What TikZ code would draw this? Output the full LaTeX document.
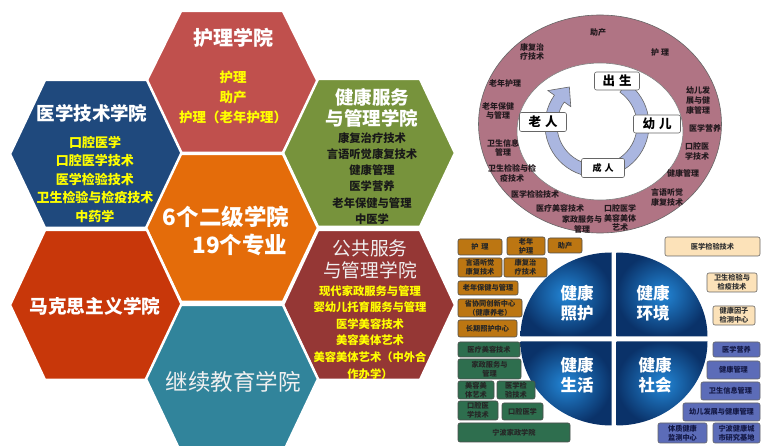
\documentclass[tikz,border=0pt]{standalone}
\usepackage{fontspec}
\setmainfont{Noto Sans CJK SC}
\usetikzlibrary{calc}
\definecolor{cRed}{HTML}{C0504D}
\definecolor{cBlue}{HTML}{1F497D}
\definecolor{cGreen}{HTML}{77933C}
\definecolor{cOrange}{HTML}{E46C0A}
\definecolor{cMarx}{RGB}{200,55,10}
\definecolor{cTeal}{HTML}{31849B}
\definecolor{cDRed}{HTML}{953735}
\definecolor{cYel}{RGB}{255,255,0}
\definecolor{cRing}{RGB}{176,116,132}
\definecolor{cLav}{RGB}{170,182,224}
\definecolor{cOBox}{RGB}{188,118,18}
\definecolor{cGBox}{RGB}{46,110,78}
\definecolor{cBeige}{RGB}{252,226,185}
\definecolor{cPBox}{RGB}{92,108,184}
\definecolor{qL}{RGB}{35,135,215}
\definecolor{qD}{RGB}{10,50,105}
\newcommand\myhex[4]{\filldraw[fill=#4,draw=white,line width=2.5pt]
  ({#1-86},{-(#2)}) -- ({#1-51},{-(#2)+#3}) -- ({#1+51},{-(#2)+#3}) --
  ({#1+86},{-(#2)}) -- ({#1+51},{-(#2)-#3}) -- ({#1-51},{-(#2)-#3}) -- cycle;}
\begin{document}
\begin{tikzpicture}[x=1pt,y=1pt,
  ttl/.style={text=white,inner sep=0,align=center},
  itm/.style={inner sep=0,align=center},
  rl/.style={inner sep=0,align=center,text={rgb,255:red,35;green,25;blue,30},font=\bfseries\fontsize{8}{9.8}\selectfont},
  cyc/.style={draw=gray!80!black,fill=white,rounded corners=2pt,line width=0.6pt,inner sep=0,font=\bfseries},
  bx/.style={rounded corners=2pt,line width=0.6pt,inner sep=0,align=center,font=\bfseries\fontsize{7.2}{8.6}\selectfont},
  obox/.style={bx,fill=cOBox,draw=black!70,text=black!85},
  gbox/.style={bx,fill=cGBox,draw=black!70,text=black!85},
  ebox/.style={bx,fill=cBeige,draw=black!60,text=black!80},
  pbox/.style={bx,fill=cPBox,draw=black!60,text={rgb,255:red,20;green,25;blue,70}},
  qt/.style={text=white,inner sep=0,align=center,font=\bfseries\fontsize{16.5}{19.5}\selectfont},
  y7/.style={itm,text=cYel,font=\bfseries\fontsize{11.3}{13}\selectfont}]
\useasboundingbox (0,0) rectangle (761,-446);
% ---------- hexagons ----------
\myhex{232}{82}{71}{cRed}
\myhex{96}{154}{74}{cBlue}
\myhex{369}{153}{74}{cGreen}
\myhex{232}{228}{74}{cOrange}
\myhex{96}{305}{75}{cMarx}
\myhex{369}{305}{75}{cDRed}
\myhex{232}{379}{74}{cTeal}
% red
\node[ttl,font=\bfseries\fontsize{20}{22}\selectfont] (t1) at (233,-38) {护理学院};
\node[itm,text=cYel,font=\bfseries\fontsize{13.5}{20}\selectfont] (i1) at (233,-97) {护理\\助产\\护理（老年护理）};
% blue
\node[ttl,font=\bfseries\fontsize{18.5}{21}\selectfont] (t2) at (92,-113) {医学技术学院};
\node[itm,text=cYel,font=\bfseries\fontsize{13}{18.5}\selectfont] (i2) at (95,-179) {口腔医学\\口腔医学技术\\医学检验技术\\卫生检验与检疫技术\\中药学};
% green
\node[ttl,font=\bfseries\fontsize{18.5}{21}\selectfont] (t3) at (372,-107.5) {健康服务\\与管理学院};
\node[itm,text=black!90,font=\bfseries\fontsize{11.3}{16.2}\selectfont] (i3) at (372,-178.5) {康复治疗技术\\言语听觉康复技术\\健康管理\\医学营养\\老年保健与管理\\中医学};
% orange
\node[ttl,font=\bfseries\fontsize{22.5}{24}\selectfont] (t4a) at (226,-217) {6个二级学院};
\node[ttl,font=\bfseries\fontsize{22.5}{24}\selectfont] (t4b) at (240,-245) {19个专业};
% marx
\node[ttl,font=\bfseries\fontsize{18.7}{21}\selectfont] (t5) at (95,-306) {马克思主义学院};
% teal
\node[ttl,text=white!94!black,font=\fontsize{22.5}{24}\selectfont] (t6) at (233,-382) {继续教育学院};
% dark red
\node[ttl,text=white!94!black,font=\fontsize{18.7}{22}\selectfont] (t7) at (370,-259) {公共服务\\与管理学院};
\node[y7] (i7a) at (370,-291) {现代家政服务与管理};
\node[y7] (i7b) at (370,-307.5) {婴幼儿托育服务与管理};
\node[y7] (i7c) at (370,-324) {医学美容技术};
\node[y7] (i7d) at (370,-340) {美容美体艺术};
\node[y7] (i7e) at (370,-357) {美容美体艺术（中外合};
\node[y7] (i7f) at (370,-374) {作办学）};
% ---------- ring ----------
\filldraw[fill=cRing,draw=black!60,line width=0.6pt] (600,-124) ellipse [x radius=121.5,y radius=109];
\filldraw[fill=white,draw=black!50,line width=0.6pt] (600,-131.5) ellipse [x radius=83,y radius=68.5];
\coordinate (C) at (597,-125);
\filldraw[fill=cLav,draw=black!60,line width=0.6pt]
  ($(C)+(55:52)$) arc[start angle=55,end angle=-215,radius=52]
  -- ($(C)+(145:60)$) -- ($(C)+(126:47)$) -- ($(C)+(145:32)$) -- ($(C)+(145:40)$)
  arc[start angle=-215,end angle=55,radius=40] -- cycle;
\node[cyc,minimum width=45pt,minimum height=18pt,font=\bfseries\fontsize{12.5}{14}\selectfont] (born) at (617,-81) {出\hspace{4pt}生};
\node[cyc,minimum width=47pt,minimum height=18pt,font=\bfseries\fontsize{12.5}{14}\selectfont] (kid) at (657,-124) {幼\hspace{4pt}儿};
\node[cyc,minimum width=47pt,minimum height=19pt,font=\bfseries\fontsize{12.5}{14}\selectfont] (old) at (543,-122) {老\hspace{4pt}人};
\node[cyc,minimum width=43pt,minimum height=19pt,font=\bfseries\fontsize{9}{10}\selectfont] (adult) at (603,-168) {成\hspace{3pt}人};
% ring labels
\node[rl] (r1) at (598,-32) {助产};
\node[rl] (r2) at (660,-52) {护\hspace{2pt}理};
\node[rl] (r3) at (532,-52) {康复治\\疗技术};
\node[rl] (r4) at (505,-83) {老年护理};
\node[rl] (r5) at (498,-111) {老年保健\\与管理};
\node[rl] (r6) at (503,-148) {卫生信息\\管理};
\node[rl] (r7) at (512,-173.5) {卫生检验与检\\疫技术};
\node[rl] (r8) at (535,-194) {医学检验技术};
\node[rl] (r9) at (560,-208) {医疗美容技术};
\node[rl] (r10) at (582,-224.5) {家政服务与\\管理};
\node[rl] (r11) at (620,-218) {口腔医学\\美容美体\\艺术};
\node[rl] (r12) at (667,-197.5) {言语听觉\\康复技术};
\node[rl] (r13) at (683,-173) {健康管理};
\node[rl] (r14) at (697,-151.5) {口腔医\\学技术};
\node[rl] (r15) at (705,-128) {医学营养};
\node[rl] (r16) at (698,-100.5) {幼儿发\\展与健\\康管理};
% ---------- quadrants ----------
\shade[inner color=qL,outer color=qD] (611.5,-336.5) -- ++(-91,0) arc[start angle=180,end angle=90,x radius=91,y radius=84] -- cycle;
\shade[inner color=qL,outer color=qD] (616.5,-336.5) -- ++(0,84) arc[start angle=90,end angle=0,x radius=91,y radius=84] -- cycle;
\shade[inner color=qL,outer color=qD] (611.5,-341.5) -- ++(-91,0) arc[start angle=180,end angle=270,x radius=91,y radius=84] -- cycle;
\shade[inner color=qL,outer color=qD] (616.5,-341.5) -- ++(91,0) arc[start angle=0,end angle=-90,x radius=91,y radius=84] -- cycle;
\node[qt] (q1) at (577,-303) {健康\\照护};
\node[qt] (q2) at (653,-303) {健康\\环境};
\node[qt] (q3) at (577,-375) {健康\\生活};
\node[qt] (q4) at (655,-375) {健康\\社会};
% ---------- boxes ----------
\node[obox,minimum width=44pt,minimum height=16pt] (b1) at (480,-247) {护\hspace{3pt}理};
\node[obox,minimum width=38pt,minimum height=18pt] (b2) at (526,-246) {老年\\护理};
\node[obox,minimum width=34pt,minimum height=15pt] (b3) at (565,-245.5) {助产};
\node[obox,minimum width=44pt,minimum height=19pt] (b4) at (480,-267.5) {言语听觉\\康复技术};
\node[obox,minimum width=43pt,minimum height=19pt] (b5) at (525.5,-267.5) {康复治\\疗技术};
\node[obox,minimum width=60pt,minimum height=14pt] (b6) at (488,-288) {老年保健与管理};
\node[obox,minimum width=64pt,minimum height=18pt] (b7) at (490,-308) {省协同创新中心\\（健康养老）};
\node[obox,minimum width=59pt,minimum height=17pt] (b8) at (487.5,-328.5) {长期照护中心};
\node[gbox,minimum width=62pt,minimum height=15pt] (g1) at (489,-349.5) {医疗美容技术};
\node[gbox,minimum width=63pt,minimum height=20pt] (g2) at (489.5,-369) {家政服务与\\管理};
\node[gbox,minimum width=36pt,minimum height=18pt] (g3) at (476,-390) {美容美\\体艺术};
\node[gbox,minimum width=38pt,minimum height=18pt] (g4) at (516,-390) {医学检\\验技术};
\node[gbox,minimum width=40pt,minimum height=19pt] (g5) at (478,-410.5) {口腔医\\学技术};
\node[gbox,minimum width=41pt,minimum height=17pt] (g6) at (522.5,-411.5) {口腔医学};
\node[gbox,minimum width=112pt,minimum height=19pt] (g7) at (514,-432.5) {宁波家政学院};
\node[ebox,minimum width=95pt,minimum height=19pt] (e1) at (712.5,-246.5) {医学检验技术};
\node[ebox,minimum width=50pt,minimum height=19pt] (e2) at (732,-282.5) {卫生检验与\\检疫技术};
\node[ebox,minimum width=42pt,minimum height=19pt] (e3) at (734,-315.5) {健康因子\\检测中心};
\node[pbox,minimum width=47pt,minimum height=15pt] (p1) at (736.5,-349.5) {医学营养};
\node[pbox,minimum width=53pt,minimum height=18pt] (p2) at (733.5,-370) {健康管理};
\node[pbox,minimum width=59pt,minimum height=18pt] (p3) at (730.5,-391) {卫生信息管理};
\node[pbox,minimum width=77pt,minimum height=18pt] (p4) at (721.5,-412) {幼儿发展与健康管理};
\node[pbox,minimum width=49pt,minimum height=20pt] (p5) at (682.5,-433) {体质健康\\监测中心};
\node[pbox,minimum width=47pt,minimum height=20pt] (p6) at (736.5,-433) {宁波健康城\\市研究基地};
\end{tikzpicture}
\end{document}
